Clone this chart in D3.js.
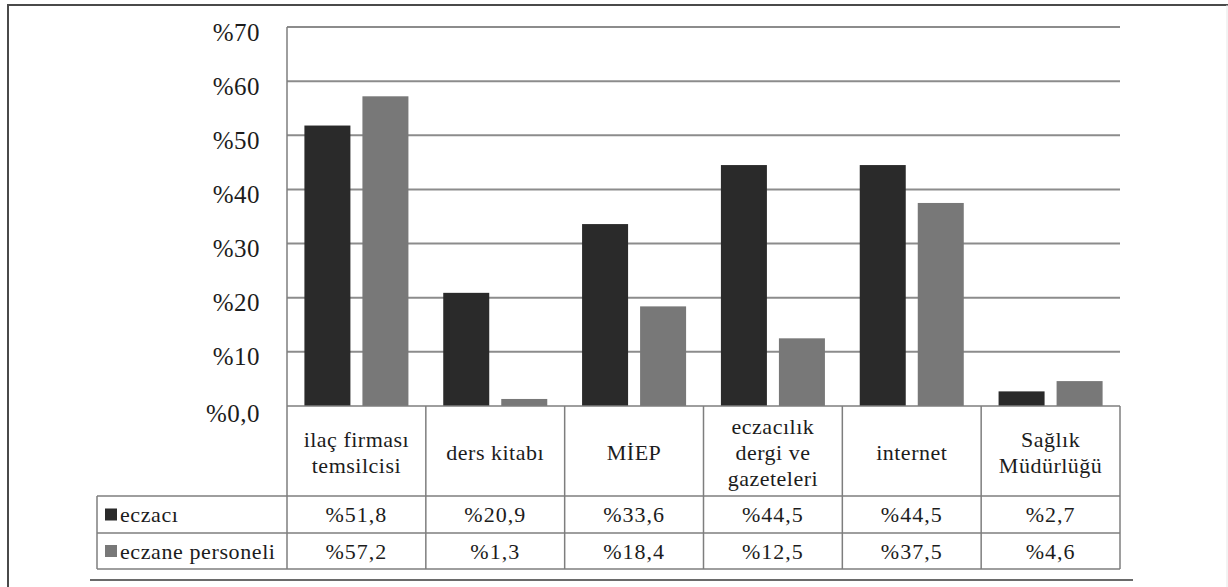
<!DOCTYPE html>
<html>
<head>
<meta charset="utf-8">
<script src="https://cdn.jsdelivr.net/npm/d3@7"></script>
<style>
  html, body { margin: 0; padding: 0; background: #fff; }
  svg { display: block; }
</style>
</head>
<body>
<svg id="chart" width="1228" height="587" font-family="Liberation Serif"></svg>
<script>
// Information sources, by respondent group (percent)
const categories = [
  ["ilaç firması", "temsilcisi"],
  ["ders kitabı"],
  ["MİEP"],
  ["eczacılık", "dergi ve", "gazeteleri"],
  ["internet"],
  ["Sağlık", "Müdürlüğü"]
];
const seriesNames = ["eczacı", "eczane personeli"];
const eczaci = [51.8, 20.9, 33.6, 44.5, 44.5, 2.7];
const eczanePersoneli = [57.2, 1.3, 18.4, 12.5, 37.5, 4.6];
const valueLabels = [
  ["%51,8", "%20,9", "%33,6", "%44,5", "%44,5", "%2,7"],
  ["%57,2", "%1,3", "%18,4", "%12,5", "%37,5", "%4,6"]
];
const yTicks = [0, 10, 20, 30, 40, 50, 60, 70];
const yTickLabels = ["%0,0", "%10", "%20", "%30", "%40", "%50", "%60", "%70"];
const colors = ["#2a2a2a", "#787878"];

const FONT = "Liberation Serif";
const TEXT_COLOR = "#1c1c1c";

const seriesValues = [eczaci, eczanePersoneli];
const svg = d3.select("#chart");

const plotLeft = 287, plotRight = 1120, plotTop = 27, plotBottom = 406;
const headerBottom = 496, row1Bottom = 533, row2Bottom = 569, tableLeft = 97;

const idx = d3.range(categories.length);
const x0 = d3.scaleBand().domain(idx).range([plotLeft, plotRight]).padding(0);
const x1 = d3.scaleBand().domain(d3.range(seriesNames.length))
  .range([0, x0.bandwidth()]).paddingInner(0.207).paddingOuter(0.3);
const y = d3.scaleLinear().domain([0, 70]).range([plotBottom, plotTop]);

// outer frame
svg.append("path")
  .attr("d", `M8,587 V5 H1228`)
  .attr("fill", "none").attr("stroke", "#4a4a4a").attr("stroke-width", 2);
svg.append("line").attr("x1", 1227).attr("x2", 1227).attr("y1", 5).attr("y2", 587)
  .attr("stroke", "#e6e6e6").attr("stroke-width", 1);
svg.append("line").attr("x1", 90).attr("x2", 1133).attr("y1", 580).attr("y2", 580)
  .attr("stroke", "#6a6a6a").attr("stroke-width", 2);

// gridlines
svg.append("g")
  .selectAll("line").data(yTicks.filter(d => d > 0)).join("line")
  .attr("x1", plotLeft).attr("x2", plotRight)
  .attr("y1", d => y(d)).attr("y2", d => y(d))
  .attr("stroke", "#8c8c8c").attr("stroke-width", 2);

// y axis labels
const yAxis = d3.axisLeft(y).tickValues(yTicks)
  .tickFormat((d, i) => yTickLabels[i]).tickSize(0).tickPadding(0);
const gy = svg.append("g").attr("transform", `translate(260,0)`).call(yAxis);
gy.select(".domain").remove();
gy.attr("font-family", FONT).attr("font-size", 25);
gy.selectAll("text")
  .attr("font-family", FONT).attr("font-size", 25).attr("fill", TEXT_COLOR)
  .attr("letter-spacing", 0.5)
  .attr("dy", "0.36em")
  .attr("transform", d => d === 0 ? "translate(0,6)" : "translate(0,4)");

// bars
svg.append("g").selectAll("g").data(seriesValues).join("g")
  .attr("fill", (d, s) => colors[s])
  .each(function (vals, s) {
    d3.select(this).selectAll("rect").data(vals).join("rect")
      .attr("x", (v, i) => x0(i) + x1(s))
      .attr("width", x1.bandwidth())
      .attr("y", v => y(v))
      .attr("height", v => y(0) - y(v));
  });

// data table grid
const tg = svg.append("g").attr("stroke", "#7e7e7e").attr("stroke-width", 1.5).attr("fill", "none");
tg.append("line").attr("x1", plotLeft).attr("x2", plotRight).attr("y1", plotBottom).attr("y2", plotBottom);
tg.append("line").attr("x1", plotLeft).attr("x2", plotLeft).attr("y1", plotTop).attr("y2", row2Bottom);
idx.forEach(i => {
  const xr = x0(i) + x0.bandwidth();
  tg.append("line").attr("x1", xr).attr("x2", xr).attr("y1", plotBottom).attr("y2", row2Bottom);
});
[headerBottom, row1Bottom, row2Bottom].forEach(yy => {
  tg.append("line").attr("x1", tableLeft).attr("x2", plotRight).attr("y1", yy).attr("y2", yy);
});
tg.append("line").attr("x1", tableLeft).attr("x2", tableLeft).attr("y1", headerBottom).attr("y2", row2Bottom);

// category labels
const lineH = 26;
svg.append("g").selectAll("text").data(categories).join("text")
  .attr("text-anchor", "middle")
  .attr("font-family", FONT).attr("font-size", 22).attr("fill", TEXT_COLOR)
  .attr("letter-spacing", 0.5)
  .attr("x", (d, i) => x0(i) + x0.bandwidth() / 2)
  .attr("y", d => (plotBottom + headerBottom) / 2 + 1 - (d.length - 1) * lineH / 2)
  .each(function (lines) {
    d3.select(this).selectAll("tspan").data(lines).join("tspan")
      .attr("x", d3.select(this).attr("x"))
      .attr("dy", (l, j) => j === 0 ? "0.35em" : lineH)
      .text(l => l);
  });

// table rows: legend keys and values
const rowMid = [(headerBottom + row1Bottom) / 2, (row1Bottom + row2Bottom) / 2];
const rows = svg.append("g").selectAll("g").data(seriesNames).join("g");
rows.append("rect")
  .attr("x", 105).attr("width", 12).attr("height", 12)
  .attr("y", (d, s) => rowMid[s] - 6)
  .attr("fill", (d, s) => colors[s]);
rows.append("text")
  .attr("x", 120).attr("y", (d, s) => rowMid[s]).attr("dy", "0.35em")
  .attr("font-family", FONT).attr("font-size", 22).attr("fill", TEXT_COLOR)
  .attr("letter-spacing", 0.6)
  .text(d => d);
rows.each(function (name, s) {
  d3.select(this).selectAll("text.val").data(valueLabels[s]).join("text")
    .attr("class", "val").attr("text-anchor", "middle")
    .attr("font-family", FONT).attr("font-size", 22).attr("fill", TEXT_COLOR)
    .attr("letter-spacing", 1)
    .attr("x", (d, i) => x0(i) + x0.bandwidth() / 2)
    .attr("y", rowMid[s]).attr("dy", "0.35em")
    .text(d => d);
});
</script>
</body>
</html>
